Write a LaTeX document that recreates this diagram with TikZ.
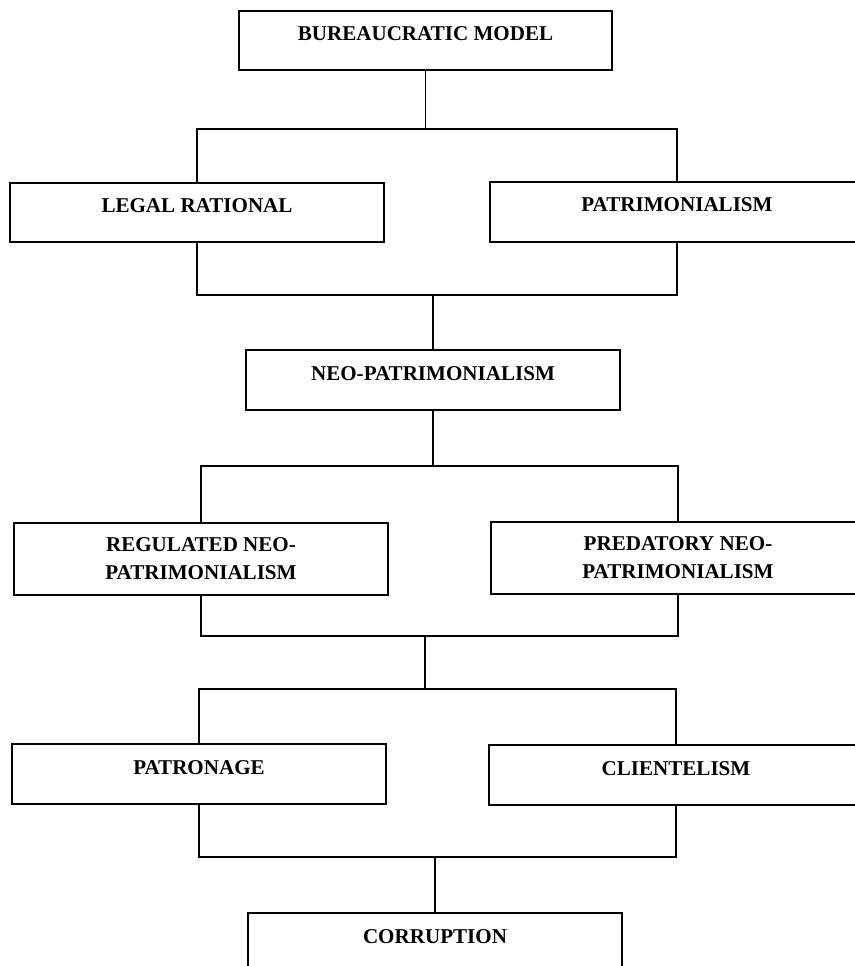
\documentclass[tikz,border=0pt]{standalone}
\usepackage{fontspec}
\setmainfont{Liberation Serif}
\usetikzlibrary{positioning, calc}

\begin{document}
\begin{tikzpicture}[
        x=0.75pt, y=-0.75pt,
        line width=1.4pt,
        font=\fontsize{15.8}{21}\selectfont\bfseries,
        block/.style = {
            draw=black,
            rectangle,
            minimum width=280pt,
            minimum height=44.5pt,
            align=center
        },
        oneline/.style = {
            block,
            text height=6pt,
            text depth=6pt
        },
        twoline/.style = {
            block,
            minimum height=54pt
        }
    ]
    \clip (0,0) rectangle (855,966);

    \node[oneline] (bureau) at (425.5,40.5) {BUREAUCRATIC MODEL};

    \node[oneline] (legal) at (197,212.5) {LEGAL RATIONAL};
    \node[oneline] (patrim) at (677,212) {PATRIMONIALISM};

    \node[oneline] (neo) at (433,380) {NEO-PATRIMONIALISM};

    \node[twoline] (regneo) at (201,559) {REGULATED NEO-\\PATRIMONIALISM};
    \node[twoline] (predneo) at (678,558) {PREDATORY NEO-\\PATRIMONIALISM};

    \node[oneline] (patron) at (199,774) {PATRONAGE};
    \node[oneline] (client) at (676,775) {CLIENTELISM};

    \node[oneline] (corrupt) at (435,943) {CORRUPTION};

    \draw (bureau.south) -- ++(0,58) coordinate (split1);
    \draw (legal.north) |- (split1) -| (patrim.north);

    \coordinate (join1) at ($(neo.north)+(0,-54)$);
    \draw (legal.south) |- (join1) -| (patrim.south);
    \draw (join1) -- (neo.north);

    \draw (neo.south) -- ++(0,55) coordinate (split2);
    \draw (regneo.north) |- (split2) -| (predneo.north);

    \coordinate (join2) at (425,636);
    \draw (regneo.south) |- (join2) -| (predneo.south);
    \draw (join2) -- ++(0,53) coordinate (split3);
    \draw (patron.north) |- (split3) -| (client.north);

    \coordinate (join3) at ($(corrupt.north)+(0,-55)$);
    \draw (patron.south) |- (join3) -| (client.south);
    \draw (join3) -- (corrupt.north);

\end{tikzpicture}
\end{document}
